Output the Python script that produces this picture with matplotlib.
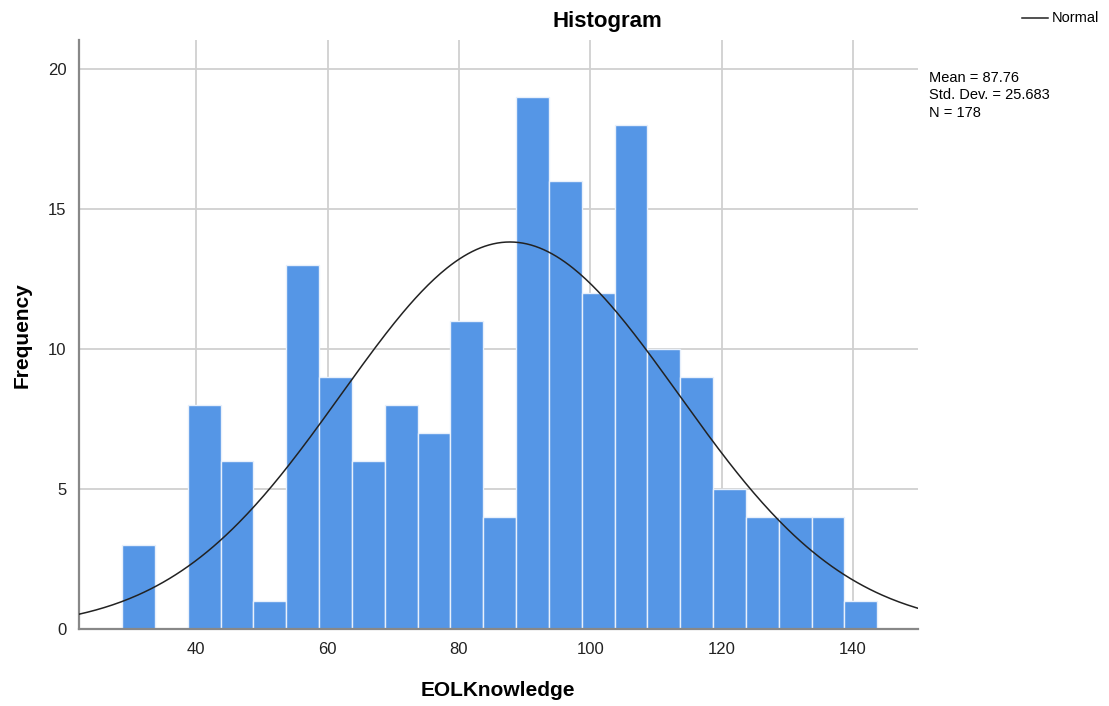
import numpy as np
import matplotlib
matplotlib.use("Agg")
import matplotlib.pyplot as plt
from matplotlib.lines import Line2D

plt.rcParams['font.family'] = ['Liberation Sans', 'DejaVu Sans']

bin_start = 28.7
bin_width = 5.0
counts = [3, 0, 8, 6, 1, 13, 9, 6, 8, 7, 11, 4, 19, 16, 12, 18, 10, 9, 5, 4, 4, 4, 1]
mean = 87.76
std = 25.683
n = 178
x_ticks = [40, 60, 80, 100, 120, 140]
y_ticks = [0, 5, 10, 15, 20]

fig = plt.figure(figsize=(11.09, 7.06), dpi=100)
ax = fig.add_axes([79/1109, 1 - 629/706, (918-79)/1109, (629-40)/706])

edges = bin_start + bin_width * np.arange(len(counts) + 1)
ax.bar(edges[:-1], counts, width=bin_width, align='edge', color='#5596E6',
       edgecolor='#e8f0fb', linewidth=1.0, zorder=2)

xs = np.linspace(22.14, 149.9, 400)
ys = n * bin_width / (std * np.sqrt(2 * np.pi)) * np.exp(-0.5 * ((xs - mean) / std) ** 2)
ax.plot(xs, ys, color='#222222', linewidth=1.1, zorder=3)

ax.set_xlim(22.14, 149.9)
ax.set_ylim(0, 21.04)
ax.set_xticks(x_ticks)
ax.set_yticks(y_ticks)
ax.grid(True, color='#d0d0d0', linewidth=1.3, zorder=0)
ax.set_axisbelow(True)
ax.tick_params(length=0, labelsize=12, pad=9, colors='#222222')
for s in ['top', 'right']:
    ax.spines[s].set_visible(False)
for s in ['left', 'bottom']:
    ax.spines[s].set_color('#888888')
    ax.spines[s].set_linewidth(1.6)

fig.text(498/1109, 1 - 690/706, 'EOLKnowledge', ha='center', va='center',
         fontsize=15, fontweight='bold')
fig.text(22/1109, 1 - 335/706, 'Frequency', ha='center', va='center',
         rotation=90, fontsize=15, fontweight='bold')

fig.text(607/1109, 1 - 21/706, 'Histogram', ha='center', va='center',
         fontsize=16, fontweight='bold')

fig.add_artist(Line2D([1022/1109, 1048/1109], [1 - 18/706, 1 - 18/706],
                      color='#222222', linewidth=1.1))
fig.text(1052/1109, 1 - 18/706, 'Normal', ha='left', va='center', fontsize=10.5)
fig.text(929/1109, 1 - 71/706, 'Mean = 87.76\nStd. Dev. = 25.683\nN = 178',
         ha='left', va='top', fontsize=10.5, linespacing=1.3)

fig.savefig('out.png', dpi=100)
